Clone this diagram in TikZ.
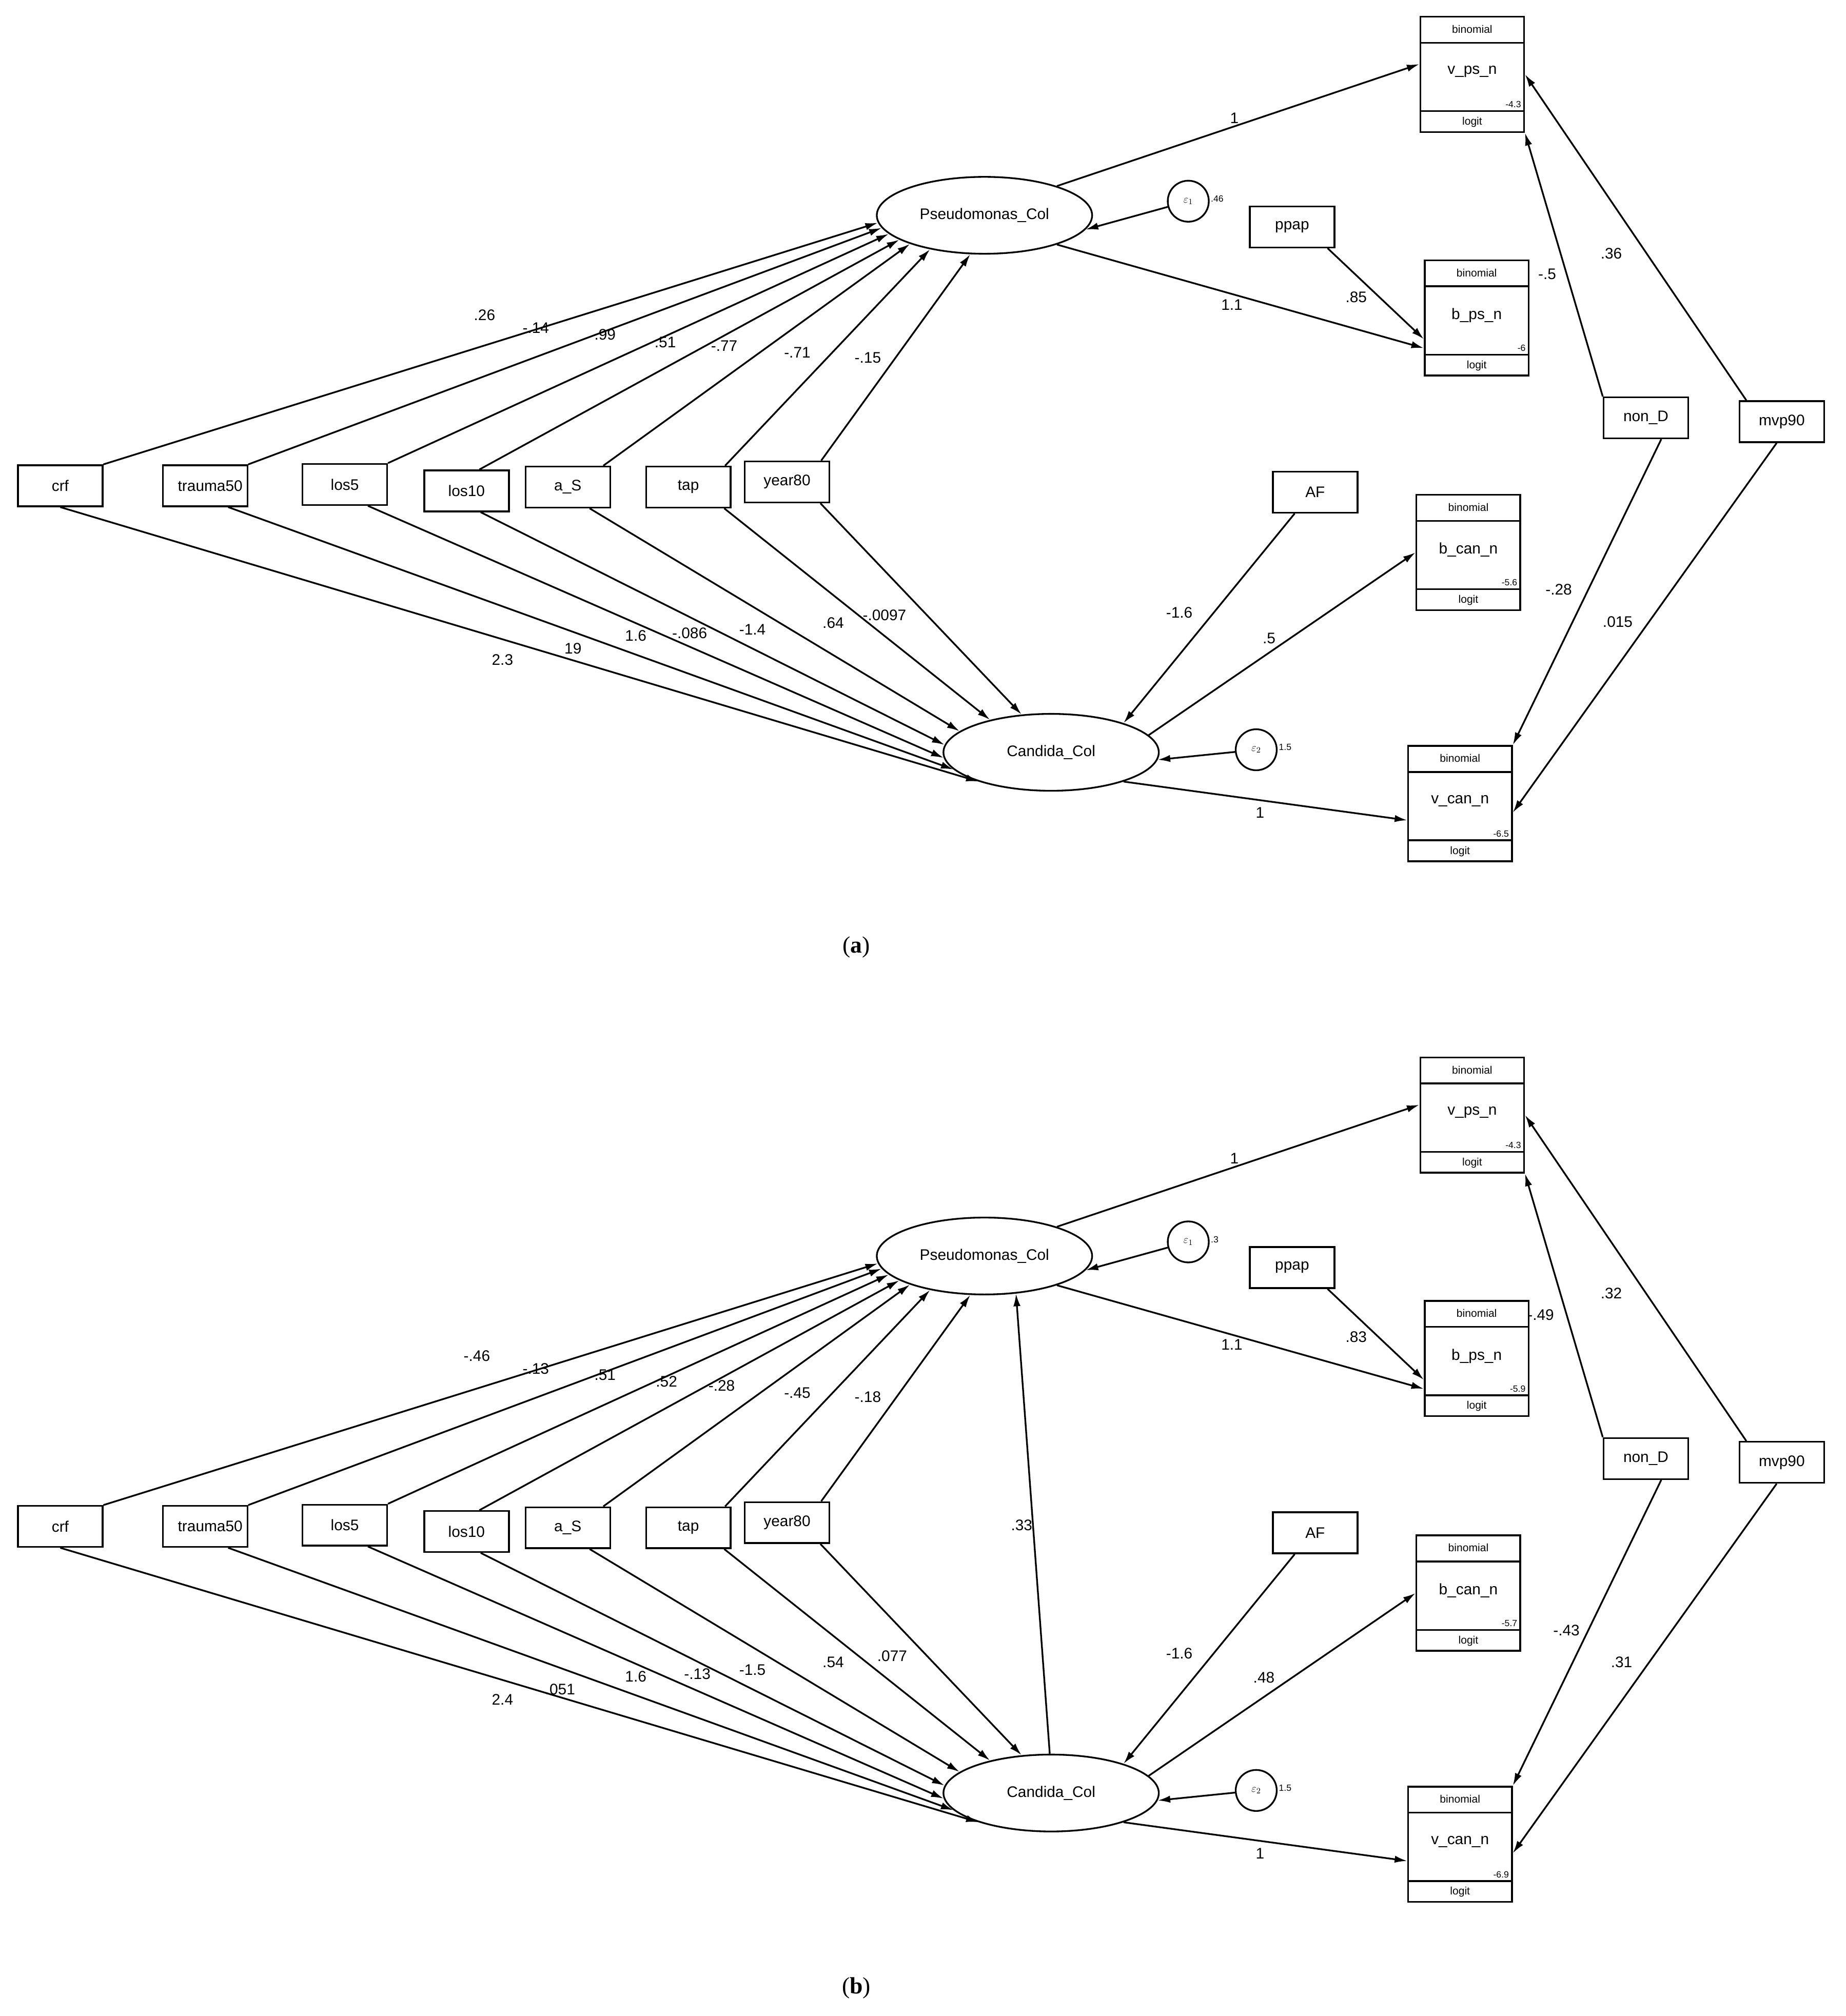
\documentclass[tikz,border=0pt]{standalone}
\usepackage{fontspec}
\setmainfont{Liberation Sans}
\newfontfamily\capfont{Liberation Serif}
\usetikzlibrary{shapes.geometric,arrows.meta}
\tikzset{
 every picture/.style={line width=1.9pt},
 box/.style={draw,minimum width=3.3cm,minimum height=1.6cm,inner sep=0pt,font=\fontsize{17}{17}\selectfont},
 bbox/.style={draw,minimum width=4.05cm,minimum height=4.5cm,inner sep=0pt},
 lat/.style={draw,ellipse,minimum width=8.4cm,minimum height=3cm,inner sep=0pt,font=\fontsize{17}{17}\selectfont},
 err/.style={draw,circle,minimum size=1.6cm,inner sep=0pt,font=\fontsize{13}{13}\selectfont},
 arr/.style={-{Latex[length=14pt,width=8pt]}},
 lab/.style={font=\fontsize{17}{17}\selectfont,inner sep=0pt},
 sm/.style={font=\fontsize{12}{12}\selectfont,inner sep=0pt},
 xs/.style={font=\fontsize{10}{10}\selectfont,inner sep=0pt},
}
\newcommand\binbox[5]{% name, center, text, exponent, (unused)
 \node[bbox] (#1) at #2 {};
 \draw ([yshift=-1.05cm]#1.north west) -- ([yshift=-1.05cm]#1.north east);
 \draw ([yshift=0.85cm]#1.south west) -- ([yshift=0.85cm]#1.south east);
 \node[sm] (#1b) at ([yshift=-0.52cm]#1.north) {binomial};
 \node[sm] (#1l) at ([yshift=0.42cm]#1.south) {logit};
 \node[lab] (#1t) at ([yshift=0.1cm]#1.center) {#3};
 \node[xs,anchor=south east] (#1e) at ([xshift=-0.12cm,yshift=0.95cm]#1.south east) {#4};
}
\newcommand\panel[8]{% prefix, yoff, eps1 val, exp vps, exp bps, exp bcan, exp vcan, extra
\begin{scope}[shift={(0,#2)}]
 \node[box] (#1crf) at (47,379) {crf};
 \node[box] (#1tr) at (160,379) {};
 \node[lab] (#1trt) at (164,379) {trauma50};
 \node[box] (#1l5) at (269,378) {los5};
 \node[box] (#1l10) at (364,383) {los10};
 \node[box] (#1aS) at (443,380) {a\_S};
 \node[box] (#1tap) at (537,380) {tap};
 \node[box] (#1yr) at (614,376) {year80};
 \node[lat] (#1ps) at (768,168) {Pseudomonas\_Col};
 \node[lat] (#1ca) at (820,587) {Candida\_Col};
 \node[err] (#1e1) at (927,157) {$\varepsilon_1$};
 \node[xs,anchor=west] (#1e1v) at (944,155) {#3};
 \node[err] (#1e2) at (980,585) {$\varepsilon_2$};
 \node[xs,anchor=west] (#1e2v) at (997,583) {1.5};
 \node[box] (#1pp) at (1008,177) {ppap};
 \node[box] (#1af) at (1026,384) {AF};
 \node[box] (#1nd) at (1284,326) {non\_D};
 \node[box] (#1mv) at (1390,329) {mvp90};
 \binbox{#1vps}{(1148.5,58)}{v\_ps\_n}{#4}{}
 \binbox{#1bps}{(1152,248)}{b\_ps\_n}{#5}{}
 \binbox{#1bcan}{(1145.5,431)}{b\_can\_n}{#6}{}
 \binbox{#1vcan}{(1139,627)}{v\_can\_n}{#7}{}
 % to Pseudomonas
 \draw[arr] (#1crf.north east) -- (#1ps.184);
 \draw[arr] (#1tr.north east) -- (#1ps.187);
 \draw[arr] (#1l5.north east) -- (#1ps.191);
 \draw[arr] ([xshift=0.5cm]#1l10.north) -- (#1ps.196);
 \draw[arr] ([xshift=-0.3cm]#1aS.north east) -- (#1ps.201);
 \draw[arr] ([xshift=-0.25cm]#1tap.north east) -- (#1ps.212);
 \draw[arr] ([xshift=-0.35cm]#1yr.north east) -- (#1ps.250);
 % to Candida
 \draw[arr] (#1crf.south) -- (#1ca.202);
 \draw[arr] ([xshift=0.9cm]#1tr.south) -- (#1ca.190);
 \draw[arr] ([xshift=0.9cm]#1l5.south) -- (#1ca.183);
 \draw[arr] ([xshift=0.55cm]#1l10.south) -- (#1ca.176);
 \draw[arr] ([xshift=0.85cm]#1aS.south) -- (#1ca.167);
 \draw[arr] ([xshift=1.4cm]#1tap.south) -- (#1ca.152);
 \draw[arr] ([xshift=1.3cm]#1yr.south) -- (#1ca.128);
 % outcomes
 \draw[arr] (#1ps.22) -- ([yshift=0.4cm]#1vps.west);
 \draw[arr] (#1ps.-22) -- ([yshift=1.1cm]#1bps.south west);
 \draw[arr] ([xshift=-0.3cm]#1pp.south east) -- ([yshift=1.45cm]#1bps.south west);
 \draw[arr] (#1e1) -- (#1ps.-8);
 \draw[arr] (#1e2) -- (#1ca.-4);
 \draw[arr] ([xshift=-0.8cm]#1af.south) -- (#1ca.22);
 \draw[arr] (#1ca.10) -- (#1bcan.west);
 \draw[arr] (#1ca.-22) -- ([yshift=-0.65cm]#1vcan.west);
 \draw[arr] (#1nd.north west) -- (#1vps.south east);
 \draw[arr] ([xshift=0.3cm]#1mv.north west) -- (#1vps.east);
 \draw[arr] ([xshift=0.6cm]#1nd.south) -- (#1vcan.north east);
 \draw[arr] ([xshift=-0.2cm]#1mv.south) -- ([yshift=-0.35cm]#1vcan.east);
 #8
\end{scope}
}
\newcommand\lbl[3]{\node[lab] (#1) at #2 {#3};}
\begin{document}
\begin{tikzpicture}[x=0.05cm,y=-0.05cm]
\useasboundingbox (0,0) rectangle (1440,1573);
\panel{a}{0}{.46}{-4.3}{-6}{-5.6}{-6.5}{}
\lbl{la1}{(378,246)}{.26}
\lbl{la2}{(418,256)}{-.14}
\lbl{la3}{(472,261)}{.99}
\lbl{la4}{(519,267)}{.51}
\lbl{la5}{(565,270)}{-.77}
\lbl{la6}{(622,275)}{-.71}
\lbl{la7}{(677,279)}{-.15}
\lbl{la8}{(392,515)}{2.3}
\lbl{la9}{(447,506)}{19}
\lbl{la10}{(496,496)}{1.6}
\lbl{la11}{(538,494)}{-.086}
\lbl{la12}{(587,491)}{-1.4}
\lbl{la13}{(650,486)}{.64}
\lbl{la14}{(690,480)}{-.0097}
\lbl{la15}{(963,92)}{1}
\lbl{la16}{(961,238)}{1.1}
\lbl{la17}{(1058,232)}{.85}
\lbl{la18}{(1207,214)}{-.5}
\lbl{la19}{(1257,198)}{.36}
\lbl{la20}{(920,478)}{-1.6}
\lbl{la21}{(990,498)}{.5}
\lbl{la22}{(1216,460)}{-.28}
\lbl{la23}{(1262,485)}{.015}
\lbl{la24}{(983,634)}{1}
\node[font=\capfont\fontsize{26}{26}\selectfont] (capa) at (668,739) {(\textbf{a})};
\panel{b}{812}{.3}{-4.3}{-5.9}{-5.7}{-6.9}{\draw[arr] (bca.92) -- (bps.-50);}
\begin{scope}[shift={(0,812)}]
\lbl{lb1}{(372,246)}{-.46}
\lbl{lb2}{(418,256)}{-.13}
\lbl{lb3}{(472,261)}{.51}
\lbl{lb4}{(520,266)}{.52}
\lbl{lb5}{(563,269)}{-.28}
\lbl{lb6}{(622,275)}{-.45}
\lbl{lb7}{(677,278)}{-.18}
\lbl{lb8}{(392,514)}{2.4}
\lbl{lb9}{(437,506)}{.051}
\lbl{lb10}{(496,496)}{1.6}
\lbl{lb11}{(544,494)}{-.13}
\lbl{lb12}{(587,491)}{-1.5}
\lbl{lb13}{(650,485)}{.54}
\lbl{lb14}{(696,480)}{.077}
\lbl{lb15}{(963,92)}{1}
\lbl{lb16}{(961,237)}{1.1}
\lbl{lb17}{(1058,231)}{.83}
\lbl{lb18}{(1202,214)}{-.49}
\lbl{lb19}{(1257,197)}{.32}
\lbl{lb20}{(797,378)}{.33}
\lbl{lb21}{(920,478)}{-1.6}
\lbl{lb22}{(986,497)}{.48}
\lbl{lb23}{(1222,460)}{-.43}
\lbl{lb24}{(1265,485)}{.31}
\lbl{lb25}{(983,634)}{1}
\end{scope}
\node[font=\capfont\fontsize{26}{26}\selectfont] (capb) at (668,1551) {(\textbf{b})};
\end{tikzpicture}
\end{document}
